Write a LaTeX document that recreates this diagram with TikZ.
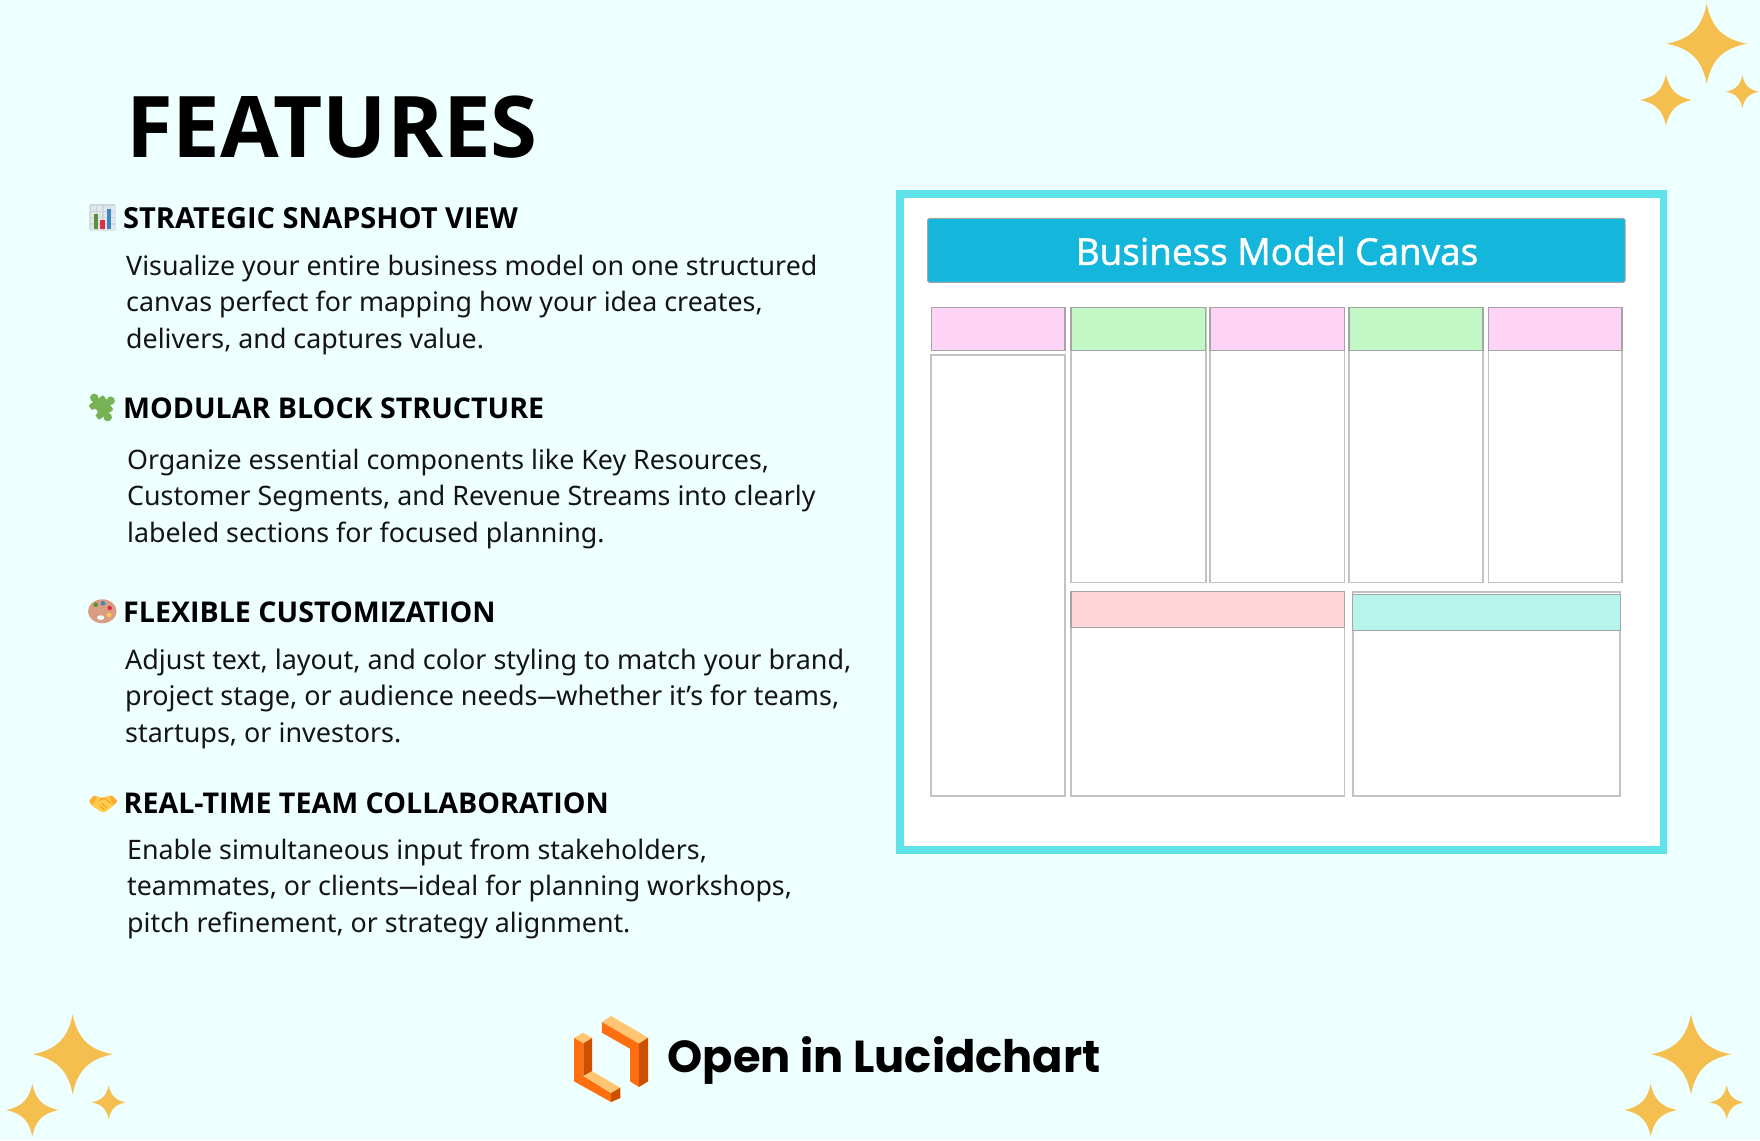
\documentclass[tikz,border=0pt]{standalone}
\usepackage{graphicx}
\usepackage{fontspec}
\setmainfont{Noto Sans}
\newfontfamily\popfont{Poppins}
\newfontfamily\opfont[FakeBold=1.4]{Open Sans}
\newfontfamily\headfont{Open Sans}
\usetikzlibrary{calc}
\definecolor{bgc}{RGB}{238,255,255}
\definecolor{framec}{RGB}{94,227,232}
\definecolor{starc}{RGB}{245,191,79}
\definecolor{barc}{RGB}{20,182,220}
\definecolor{pinkc}{RGB}{253,211,246}
\definecolor{greenc}{RGB}{194,247,198}
\definecolor{salmonc}{RGB}{255,213,215}
\definecolor{tealc}{RGB}{183,245,236}
\definecolor{cellline}{RGB}{195,195,195}
\definecolor{headline}{RGB}{165,165,165}
\definecolor{logoO}{RGB}{255,111,16}
\definecolor{logoD}{RGB}{204,80,0}
\definecolor{logoL}{RGB}{255,197,115}
\definecolor{puzc}{RGB}{119,178,85}
\definecolor{palc}{RGB}{217,158,130}
\definecolor{handc}{RGB}{255,204,77}
\definecolor{sleevec}{RGB}{255,172,51}
\definecolor{fingerc}{RGB}{244,144,12}
\tikzset{
 x=1pt,y=-1pt,
 headtext/.style={anchor=base west,inner sep=0pt,font=\headfont\bfseries\fontsize{28.6}{34}\selectfont,text=black},
 bodytext/.style={anchor=north west,inner sep=0pt,align=left,font=\fontsize{26.8}{36.5}\selectfont,text=black!92},
 cellbody/.style={draw=cellline,line width=1.6pt,fill=white},
 cellhead/.style={draw=headline,line width=1.4pt},
}
\newcommand{\sparkle}[3]{%
 \fill[starc,shift={(#1,#2)},scale=#3]
  (1,0) .. controls (.40,.12) and (.12,.40) .. (0,1)
  .. controls (-.12,.40) and (-.40,.12) .. (-1,0)
  .. controls (-.40,-.12) and (-.12,-.40) .. (0,-1)
  .. controls (.12,-.40) and (.40,-.12) .. (1,0) -- cycle;}
\newcommand{\lgx}[2]{(550+#1/2.7,992+#2/3)}
\newcommand{\shortdash}{\scalebox{0.7}[1]{—}}
\begin{document}
\begin{tikzpicture}
\useasboundingbox (0,0) rectangle (1760,1140);
\fill[bgc] (0,0) rectangle (1760,1140);
% sparkles
\sparkle{1706.7}{43.7}{40}\sparkle{1666}{100}{26}\sparkle{1742.3}{91.7}{16.5}
\sparkle{72.7}{1054.3}{40}\sparkle{32.3}{1110}{26.3}\sparkle{108.7}{1102.3}{17}
\sparkle{1691}{1054.3}{40}\sparkle{1650.7}{1110}{26.3}\sparkle{1726.7}{1102.3}{17}
% title
\node[anchor=base west,inner sep=0pt,font=\headfont\bfseries\fontsize{85.1}{90}\selectfont] (title) at (126,157) {FEATURES};
% headings
\node[headtext,font=\headfont\bfseries\fontsize{29}{34}\selectfont] (h1) at (123,228) {STRATEGIC SNAPSHOT VIEW};
\node[headtext] (h2) at (123,418.5) {MODULAR BLOCK STRUCTURE};
\node[headtext] (h3) at (123,622) {FLEXIBLE CUSTOMIZATION};
\node[headtext] (h4) at (123.5,813) {REAL-TIME TEAM COLLABORATION};
% paragraphs
\node[bodytext] (p1) at (126,254.5) {Visualize your entire business model on one structured\\canvas perfect for mapping how your idea creates,\\delivers, and captures value.};
\node[bodytext] (p2) at (127,448.5) {Organize essential components like Key Resources,\\Customer Segments, and Revenue Streams into clearly\\labeled sections for focused planning.};
\node[bodytext,font=\fontsize{26.95}{36.5}\selectfont] (p3) at (125,648.5) {Adjust text, layout, and color styling to match your brand,\\project stage, or audience needs\shortdash whether it’s for teams,\\startups, or investors.};
\node[bodytext] (p4) at (127,838.5) {Enable simultaneous input from stakeholders,\\teammates, or clients\shortdash ideal for planning workshops,\\pitch refinement, or strategy alignment.};
% chart icon
\fill[rounded corners=2pt,fill={rgb,255:red,204;green,214;blue,221}] (89.3,204) rectangle (115.7,230.7);
\foreach \cx in {91,97.3,103.6,109.9}\foreach \cy in {206,212.2,218.4,224.6}
 {\fill[fill={rgb,255:red,225;green,232;blue,237}] (\cx,\cy) rectangle ++(5,5);}
\fill[fill={rgb,255:red,92;green,145;blue,59}] (94,214.3) rectangle (98.3,229);
\fill[fill={rgb,255:red,221;green,46;blue,68}] (100,220) rectangle (105,229);
\fill[fill={rgb,255:red,59;green,136;blue,195}] (106.7,209.3) rectangle (111,229);
% puzzle icon
\begin{scope}[shift={(101,407.5)},rotate=35,scale=1.12]
 \fill[puzc,rounded corners=1pt] (-8,-8) rectangle (8,8);
 \fill[puzc] (0,-10.5) circle[radius=3.8] (10.5,0) circle[radius=3.8] (0,10.5) circle[radius=3.8];
 \fill[bgc] (-7.2,0) circle[radius=2.8];
\end{scope}
% palette icon
\fill[palc] (102.3,611.3) ellipse[x radius=14.3,y radius=12];
\fill[bgc] (100.7,617.6) ellipse[x radius=3.6,y radius=2.3];
\fill[fill={rgb,255:red,92;green,145;blue,59}] (95.7,604.7) circle[radius=2.3];
\fill[fill={rgb,255:red,59;green,136;blue,195}] (103,603.3) circle[radius=2.3];
\fill[fill={rgb,255:red,221;green,46;blue,68}] (109.7,608) circle[radius=2.3];
\fill[fill={rgb,255:red,255;green,204;blue,77}] (109,615) circle[radius=2.3];
% handshake icon
\fill[handc,rounded corners=1.5pt] (89,801)--(94,795.5)--(100,797)--(103,798)--(107,796)--(112,795.5)--(117.5,801)--(113,806)--(106,811.5)--(102,812.5)--(97,809)--(92,806)--cycle;
\fill[sleevec,rounded corners=1pt] (89,801)--(94,795.5)--(97,796.3)--(92.5,805.5)--cycle;
\fill[sleevec,rounded corners=1pt] (117.5,801)--(112,795.5)--(109,796.2)--(113.5,805.5)--cycle;
\draw[fingerc,line width=.7pt] (99,800.5)--(104,798)--(111,803.5) (102,803.5)--(107,808) (100,805.5)--(104,809.5);
% logo
\fill[logoL] \lgx{140}{90}--\lgx{165}{72}--\lgx{265}{137}--\lgx{240}{155}--cycle;
\fill[logoO] \lgx{140}{90}--\lgx{240}{155}--\lgx{240}{285}--\lgx{216}{268}--\lgx{216}{170}--\lgx{140}{122}--cycle;
\fill[logoD] \lgx{240}{155}--\lgx{265}{137}--\lgx{265}{268}--\lgx{240}{285}--cycle;
\fill[logoL] \lgx{65}{138}--\lgx{89}{122}--\lgx{114}{138}--\lgx{90}{154}--cycle;
\fill[logoO] \lgx{65}{138}--\lgx{90}{154}--\lgx{90}{252}--\lgx{165}{303}--\lgx{165}{330}--\lgx{65}{268}--cycle;
\fill[logoD] \lgx{90}{154}--\lgx{114}{138}--\lgx{114}{238}--\lgx{90}{252}--cycle;
\fill[logoL] \lgx{90}{252}--\lgx{114}{238}--\lgx{190}{287}--\lgx{165}{303}--cycle;
\fill[logoD] \lgx{165}{303}--\lgx{190}{287}--\lgx{190}{318}--\lgx{165}{330}--cycle;
\node[anchor=base west,inner sep=0pt,font=\popfont\bfseries\fontsize{44.8}{50}\selectfont] (open) at (667.3,1072) {Open in Lucidchart};
% canvas
\draw[framec,line width=7.5pt,fill=white] (899.75,193.75) rectangle (1663.25,849.8);
\fill[barc,draw=headline,line width=1pt,rounded corners=1.5pt] (927.7,218.3) rectangle (1625,282.3);
\node[text=white,inner sep=0pt,font=\opfont\fontsize{36.9}{40}\selectfont] (bmc) at (1277,251) {Business Model Canvas};
% cells
\begin{scope}[yshift=-0.7pt]
\draw[cellbody] (930.7,354) rectangle (1065,795);
\draw[cellhead,fill=pinkc] (931.2,307) rectangle (1065,350);
\draw[cellbody] (1071,307) rectangle (1205.7,581.7);
\draw[cellhead,fill=greenc] (1071,307) rectangle (1205.7,350);
\draw[cellbody] (1210,307) rectangle (1344.3,581.7);
\draw[cellhead,fill=pinkc] (1210,307) rectangle (1344.3,350);
\draw[cellbody] (1349,307) rectangle (1483,581.7);
\draw[cellhead,fill=greenc] (1349,307) rectangle (1483,350);
\draw[cellbody] (1488.3,307) rectangle (1622,581.7);
\draw[cellhead,fill=pinkc] (1488.3,307) rectangle (1622,350);
\draw[cellbody] (1071,591) rectangle (1344.3,795);
\draw[cellhead,fill=salmonc] (1071,591) rectangle (1344.3,626.7);
\draw[cellbody] (1352.7,591) rectangle (1620.2,795);
\draw[cellhead,fill=tealc] (1352.7,594) rectangle (1620.2,630);
\end{scope}
\end{tikzpicture}
\end{document}
